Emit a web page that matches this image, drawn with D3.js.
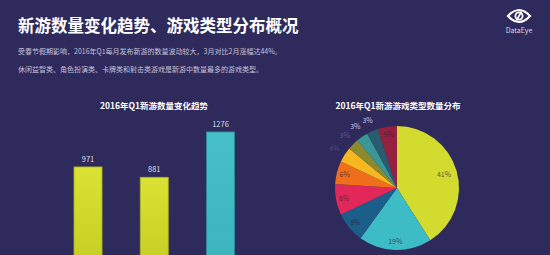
<!DOCTYPE html>
<html><head><meta charset="utf-8">
<script src="https://cdn.jsdelivr.net/npm/d3@7"></script>
<style>
html,body{margin:0;padding:0;background:#2f2a5c;}
svg{display:block;}
text{font-family:"Noto Sans CJK SC","Noto Sans",sans-serif;}
</style></head>
<body>
<svg id="c" width="550" height="255"></svg>
<script>
// ---- data ----
const pageTitle = "新游数量变化趋势、游戏类型分布概况";
const noteLines = ["受春节假期影响，2016年Q1每月发布新游的数量波动较大，3月对比2月涨幅达44%。",
                   "休闲益智类、角色扮演类、卡牌类和射击类游戏是新游中数量最多的游戏类型。"];
const barTitle = "2016年Q1新游数量变化趋势";
const months = ["1月", "2月", "3月"];
const newGames = [971, 881, 1276];
const pieTitle = "2016年Q1新游游戏类型数量分布";
const pieShares = [41, 19, 8, 8, 6, 4, 3, 3, 3, 5];
const pieLabels = ["41%", "19%", "8%", "8%", "6%", "4%", "3%", "3%", "3%", "5%"];

// ---- styles ----
const pieColors = ["#d3db2e", "#3dbcc6", "#1b5e8a", "#e2285a", "#ef6e1c", "#f7b71e", "#8a8b2e", "#3a9797", "#2a5b6e", "#96203f"];
const labelOutside = [false, false, false, false, false, true, true, true, true, false];
const outsideColors = ["#4b4884", "#5d5a96", "#c6c2ea", "#c6c2ea"];

const svg = d3.select("#c");
const defs = svg.append("defs");
const gy = defs.append("linearGradient").attr("id","gy").attr("x1",0).attr("y1",0).attr("x2",0).attr("y2",1);
gy.append("stop").attr("offset","0%").attr("stop-color","#dae232");
gy.append("stop").attr("offset","100%").attr("stop-color","#c3cb22");
const gc = defs.append("linearGradient").attr("id","gc").attr("x1",0).attr("y1",0).attr("x2",0).attr("y2",1);
gc.append("stop").attr("offset","0%").attr("stop-color","#46c0c8");
gc.append("stop").attr("offset","100%").attr("stop-color","#3bb2bc");

// header
svg.append("text").attr("x",18).attr("y",32).attr("fill","#ffffff")
  .attr("font-size",16.5).attr("font-weight","bold").text(pageTitle);
svg.selectAll("text.note").data(noteLines).enter().append("text").attr("class","note")
  .attr("x",18).attr("y",(d,i)=>54+i*18).attr("fill","#c4c0da").attr("font-size",7).text(d=>d);

// logo
const logo = svg.append("g").attr("transform","translate(519,16)");
logo.append("path").attr("d","M-11,0 Q0,-12 11,0 Q0,12 -11,0 Z").attr("fill","none").attr("stroke","#ffffff").attr("stroke-width",2.2);
logo.append("circle").attr("r",3.6).attr("fill","none").attr("stroke","#ffffff").attr("stroke-width",1.8);
logo.append("line").attr("x1",-2.5).attr("y1",4.5).attr("x2",2.5).attr("y2",-4.5).attr("stroke","#ffffff").attr("stroke-width",1.6);
svg.append("text").attr("x",519).attr("y",33).attr("text-anchor","middle").attr("fill","#d8d6ea").attr("font-size",7).text("DataEye");

// ---- bar chart ----
svg.append("text").attr("x",154).attr("y",109).attr("text-anchor","middle").attr("fill","#ffffff")
  .attr("font-size",8.5).attr("font-weight","bold").text(barTitle);
const x = d3.scaleBand().domain(months).range([54.9, 253.6]).paddingInner(0.577).paddingOuter(0.2885);
const y = d3.scaleLinear().domain([0, 1300]).range([278.4, 129.2]);
svg.selectAll("rect.bar").data(newGames).enter().append("rect").attr("class","bar")
  .attr("x",(d,i)=>x(months[i])).attr("width",x.bandwidth())
  .attr("y",d=>y(d)).attr("height",d=>y(0)-y(d))
  .attr("fill",(d,i)=>i===2?"url(#gc)":"url(#gy)")
  .attr("stroke",(d,i)=>i===2?"#2b8e98":"#a9b01c").attr("stroke-width",0.8);
svg.selectAll("text.val").data(newGames).enter().append("text").attr("class","val")
  .attr("x",(d,i)=>x(months[i])+x.bandwidth()/2).attr("y",d=>y(d)-5)
  .attr("text-anchor","middle").attr("fill","#dcdaea").attr("font-size",7.5).text(d=>d);

// ---- pie chart ----
svg.append("text").attr("x",398).attr("y",109).attr("text-anchor","middle").attr("fill","#ffffff")
  .attr("font-size",8.5).attr("font-weight","bold").text(pieTitle);
const cx = 397, cy = 188, R = 62;
const pie = d3.pie().sort(null).value(d=>d);
const arcs = pie(pieShares);
const arc = d3.arc().innerRadius(0).outerRadius(R);
const pg = svg.append("g").attr("transform",`translate(${cx},${cy})`);
pg.selectAll("path").data(arcs).enter().append("path").attr("d",arc).attr("fill",(d,i)=>pieColors[i]);
const inArc = d3.arc().innerRadius(54).outerRadius(54);
const bigArc = d3.arc().innerRadius(49).outerRadius(49);
const outArc = d3.arc().innerRadius(74).outerRadius(74);
let oi = 0;
pg.selectAll("text").data(arcs).enter().append("text")
  .attr("transform",(d,i)=>{
    const a = labelOutside[i] ? outArc : (i===0 ? bigArc : inArc);
    const p = a.centroid(d); return `translate(${p[0]},${p[1]})`;
  })
  .attr("text-anchor","middle").attr("dy","0.35em").attr("font-size",7)
  .attr("fill",(d,i)=>labelOutside[i] ? outsideColors[(oi++)] : "rgba(45,30,60,0.75)")
  .text((d,i)=>pieLabels[i]);
</script>
</body></html>
